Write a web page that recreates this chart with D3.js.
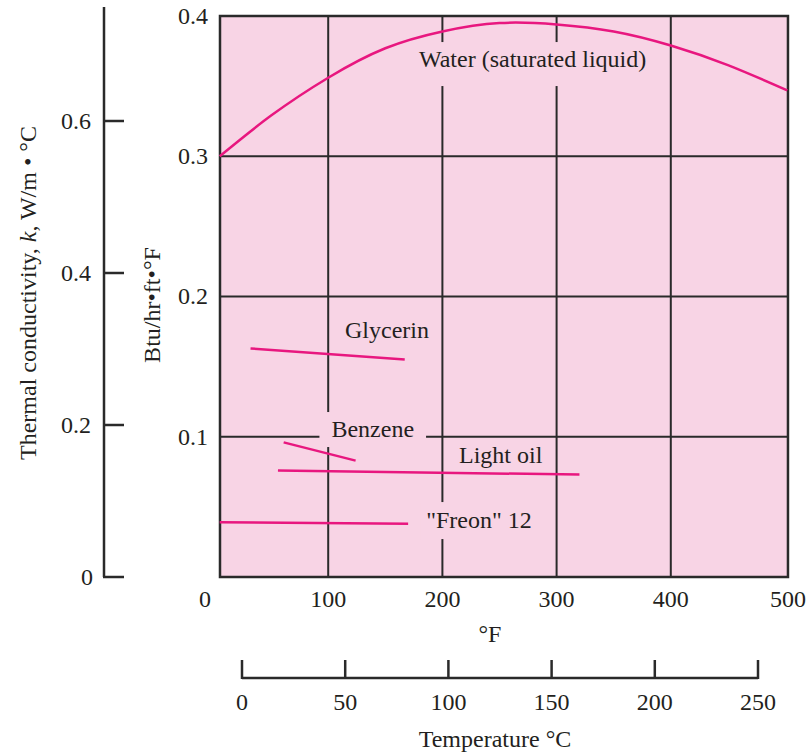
<!DOCTYPE html>
<html>
<head>
<meta charset="utf-8">
<script src="https://cdn.jsdelivr.net/npm/d3@7"></script>
<style>
  body { margin: 0; background: #fff; }
  text { font-family: "Liberation Serif", "Times New Roman", serif; fill: #231f20; }
</style>
</head>
<body>
<div id="chart"></div>
<script>
// Tick values for each axis
var fTicks = [0, 100, 200, 300, 400, 500];
var cTicks = [0, 50, 100, 150, 200, 250];
var btuTicks = [0.1, 0.2, 0.3, 0.4];
var siTicks = [0, 0.2, 0.4, 0.6];

// Curves: [temperature °F, k in Btu/hr·ft·°F]
var water = [[5, 0.300], [50, 0.329], [100, 0.356], [150, 0.377], [200, 0.389],
  [250, 0.395], [300, 0.394], [350, 0.389], [400, 0.379], [450, 0.365], [502, 0.347]];
var glycerin = [[32, 0.163], [167, 0.155]];
var benzene = [[61, 0.096], [124, 0.083]];
var lightOil = [[56, 0.076], [320, 0.073]];
var freon = [[5, 0.039], [170, 0.038]];

var seriesNames = ["Water (saturated liquid)", "Glycerin", "Benzene", "Light oil", "\"Freon\" 12"];
var seriesData = [water, glycerin, benzene, lightOil, freon];
// label anchor for each curve, in chart units
var labelAt = [[279, 0.3636], [151.5, 0.1704], [139, 0.0998], [251, 0.0813], [232, 0.0349]];

var svgWidth = 809;
var svgHeight = 754;

var pink = "#f8d4e5";
var magenta = "#e8177f";
var ink = "#2a2a2a";

var svg = d3.select("#chart")
  .append("svg")
  .attr("width", svgWidth)
  .attr("height", svgHeight);

// scales
var xScale = d3.scaleLinear().domain([0, 500]).range([214, 785]);
var yScale = d3.scaleLinear().domain([0, 0.4]).range([577, 16]);
var siScale = d3.scaleLinear().domain([0, 0.6]).range([577, 121]);
var cScale = d3.scaleLinear().domain([0, 250]).range([242, 758]);

var xMin = 5.25, xMax = 502.6;

// plot background
svg.append("rect")
  .attr("x", xScale(xMin))
  .attr("y", yScale(0.4))
  .attr("width", xScale(xMax) - xScale(xMin))
  .attr("height", yScale(0) - yScale(0.4))
  .attr("fill", pink);

// grid
svg.selectAll(".vgrid")
  .data(fTicks.filter(d => d > 0 && d < 500))
  .enter()
  .append("line")
  .attr("x1", d => xScale(d))
  .attr("x2", d => xScale(d))
  .attr("y1", yScale(0))
  .attr("y2", yScale(0.4))
  .attr("stroke", ink)
  .attr("stroke-width", 2);

svg.selectAll(".hgrid")
  .data(btuTicks.filter(d => d < 0.4))
  .enter()
  .append("line")
  .attr("x1", xScale(xMin))
  .attr("x2", xScale(xMax))
  .attr("y1", d => yScale(d))
  .attr("y2", d => yScale(d))
  .attr("stroke", ink)
  .attr("stroke-width", 2);

// frame
svg.append("rect")
  .attr("x", xScale(xMin))
  .attr("y", yScale(0.4))
  .attr("width", xScale(xMax) - xScale(xMin))
  .attr("height", yScale(0) - yScale(0.4))
  .attr("fill", "none")
  .attr("stroke", ink)
  .attr("stroke-width", 2.5);

// curves
var line = d3.line()
  .x(d => xScale(d[0]))
  .y(d => yScale(d[1]))
  .curve(d3.curveNatural);

svg.selectAll(".curve")
  .data(seriesData)
  .enter()
  .append("path")
  .attr("d", line)
  .attr("fill", "none")
  .attr("stroke", magenta)
  .attr("stroke-width", 2.5);

// curve labels, with pink boxes that cut the grid where needed
var pads = [[5, 4, 14], [0, 0, 0], [12, 4, 5], [0, 0, 0], [6, 5, 6]];

seriesNames.forEach(function(name, i) {
  var g = svg.append("g");
  var t = g.append("text")
    .attr("x", xScale(labelAt[i][0]))
    .attr("y", yScale(labelAt[i][1]))
    .attr("text-anchor", "middle")
    .attr("font-size", "24px")
    .text(name);
  var p = pads[i];
  if (p[0] > 0) {
    var b = t.node().getBBox();
    g.insert("rect", "text")
      .attr("x", b.x - p[0])
      .attr("y", b.y - p[1])
      .attr("width", b.width + 2 * p[0])
      .attr("height", b.height + p[1] + p[2])
      .attr("fill", pink);
  }
});

// Btu tick labels
svg.selectAll(".btuLabel")
  .data(btuTicks)
  .enter()
  .append("text")
  .attr("x", 208)
  .attr("y", d => yScale(d))
  .attr("dy", "0.33em")
  .attr("text-anchor", "end")
  .attr("font-size", "24px")
  .text(d => d3.format(".1f")(d));

// °F tick labels
svg.selectAll(".fLabel")
  .data(fTicks)
  .enter()
  .append("text")
  .attr("x", d => xScale(d))
  .attr("dx", d => d === 0 ? -9 : (d === 500 ? 3 : 0))
  .attr("y", 607)
  .attr("text-anchor", "middle")
  .attr("font-size", "24px")
  .text(d => d);

svg.append("text")
  .attr("x", 490)
  .attr("y", 642)
  .attr("text-anchor", "middle")
  .attr("font-size", "24px")
  .text("°F");

// W/m·°C axis on the far left
svg.append("line")
  .attr("x1", 104).attr("x2", 104)
  .attr("y1", siScale(0.75)).attr("y2", siScale(0))
  .attr("stroke", ink)
  .attr("stroke-width", 2.5);

svg.selectAll(".siTick")
  .data(siTicks)
  .enter()
  .append("line")
  .attr("x1", 103)
  .attr("x2", 124)
  .attr("y1", d => siScale(d))
  .attr("y2", d => siScale(d))
  .attr("stroke", ink)
  .attr("stroke-width", 2.5);

svg.selectAll(".siLabel")
  .data(siTicks)
  .enter()
  .append("text")
  .attr("x", d => d === 0 ? 93 : 91)
  .attr("y", d => siScale(d))
  .attr("dy", "0.33em")
  .attr("text-anchor", "end")
  .attr("font-size", "24px")
  .text(d => d === 0 ? "0" : d3.format(".1f")(d));

// axis titles
var siTitle = svg.append("text")
  .attr("transform", "translate(36, 293) rotate(-90)")
  .attr("text-anchor", "middle")
  .attr("font-size", "24px");
siTitle.append("tspan").text("Thermal conductivity, ");
siTitle.append("tspan").attr("font-style", "italic").text("k");
siTitle.append("tspan").text(", W/m • °C");

svg.append("text")
  .attr("transform", "translate(160, 305) rotate(-90)")
  .attr("text-anchor", "middle")
  .attr("font-size", "24px")
  .text("Btu/hr•ft•°F");

// °C axis at the bottom
svg.append("line")
  .attr("x1", cScale(0)).attr("x2", cScale(250))
  .attr("y1", 678).attr("y2", 678)
  .attr("stroke", ink)
  .attr("stroke-width", 2.5);

svg.selectAll(".cTick")
  .data(cTicks)
  .enter()
  .append("line")
  .attr("x1", d => cScale(d))
  .attr("x2", d => cScale(d))
  .attr("y1", 679)
  .attr("y2", 660)
  .attr("stroke", ink)
  .attr("stroke-width", 2.5);

svg.selectAll(".cLabel")
  .data(cTicks)
  .enter()
  .append("text")
  .attr("x", d => cScale(d))
  .attr("y", 710)
  .attr("text-anchor", "middle")
  .attr("font-size", "24px")
  .text(d => d);

svg.append("text")
  .attr("x", 495)
  .attr("y", 747)
  .attr("text-anchor", "middle")
  .attr("font-size", "24px")
  .text("Temperature °C");
</script>
</body>
</html>
